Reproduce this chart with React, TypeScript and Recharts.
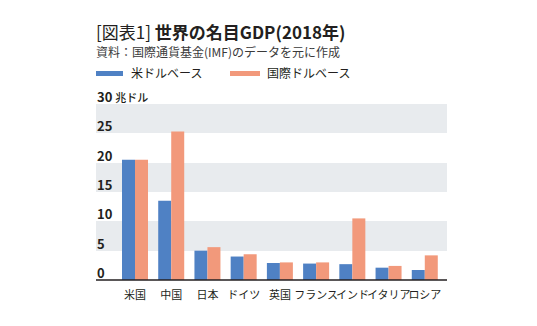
import { BarChart, Bar, XAxis, YAxis, CartesianGrid } from "recharts";

const COUNTRIES = ["米国", "中国", "日本", "ドイツ", "英国", "フランス", "インド", "イタリア", "ロシア"];
const USD_BASE = [20.5, 13.5, 5.0, 4.0, 2.9, 2.8, 2.7, 2.1, 1.7];
const INTL_BASE = [20.5, 25.3, 5.6, 4.4, 3.0, 3.0, 10.5, 2.4, 4.2];
const Y_TICKS = [0, 5, 10, 15, 20, 25, 30];

const BLUE = "#4f81c4";
const ORANGE = "#f2997b";
const FONT = '"Noto Sans CJK JP", "Noto Sans", sans-serif';

const data = COUNTRIES.map((name, i) => ({ name, usd: USD_BASE[i], intl: INTL_BASE[i] }));

function YTick(props: any) {
  const { x, y, payload } = props;
  const v = payload.value;
  return (
    <text x={x + 1} y={y - 2} fontSize={13} fontWeight={700} fill="#231f20" fontFamily={FONT}>
      {v}
      {v === 30 && (
        <tspan fontSize={11} fontWeight={500} dx={3}>
          兆ドル
        </tspan>
      )}
    </text>
  );
}

function XTick(props: any) {
  const { x, y, payload } = props;
  return (
    <text x={x} y={y + 11} textAnchor="middle" fontSize={11} fill="#231f20" fontFamily={FONT}>
      {payload.value}
    </text>
  );
}

export default function App() {
  return (
    <div style={{ position: "absolute", left: 0, top: 0, width: 537, height: 326, background: "#fff", fontFamily: FONT }}>
      <div style={{ position: "absolute", left: 96, top: 21, fontSize: 17, fontWeight: 700, color: "#231f20", whiteSpace: "nowrap", lineHeight: "22px" }}>
        <span style={{ fontWeight: 400 }}>[図表1]</span> 世界の名目GDP(2018年)
      </div>
      <div style={{ position: "absolute", left: 96, top: 44, fontSize: 12, color: "#3a3a3a", whiteSpace: "nowrap", lineHeight: "16px" }}>
        資料：国際通貨基金(IMF)のデータを元に作成
      </div>
      <div style={{ position: "absolute", left: 96, top: 64, fontSize: 12, color: "#231f20", whiteSpace: "nowrap", lineHeight: "18px", display: "flex", alignItems: "center" }}>
        <span style={{ display: "inline-block", width: 27, height: 5, background: BLUE, marginRight: 8 }} />
        <span style={{ width: 99 }}>米ドルベース</span>
        <span style={{ display: "inline-block", width: 30, height: 5, background: ORANGE, marginRight: 7 }} />
        <span>国際ドルベース</span>
      </div>
      <div style={{ position: "absolute", left: 0, top: 0 }}>
        <BarChart
          width={537}
          height={326}
          data={data}
          margin={{ top: 104, left: 95, right: 90, bottom: 26 }}
          barGap={0}
          barCategoryGap={5}
        >
          <CartesianGrid vertical={false} stroke="none" horizontalFill={["#e8ebee", "#ffffff"]} />
          <XAxis
            dataKey="name"
            height={20}
            padding={{ left: 21, right: 4 }}
            tickLine={false}
            axisLine={{ stroke: "#231f20", strokeWidth: 1.5 }}
            tick={<XTick />}
            interval={0}
          />
          <YAxis
            width={1}
            domain={[0, 30]}
            ticks={Y_TICKS}
            interval={0}
            tickLine={false}
            axisLine={false}
            tick={<YTick />}
            tickSize={0}
            tickMargin={0}
          />
          <Bar dataKey="usd" fill={BLUE} isAnimationActive={false} />
          <Bar dataKey="intl" fill={ORANGE} isAnimationActive={false} />
        </BarChart>
      </div>
    </div>
  );
}
